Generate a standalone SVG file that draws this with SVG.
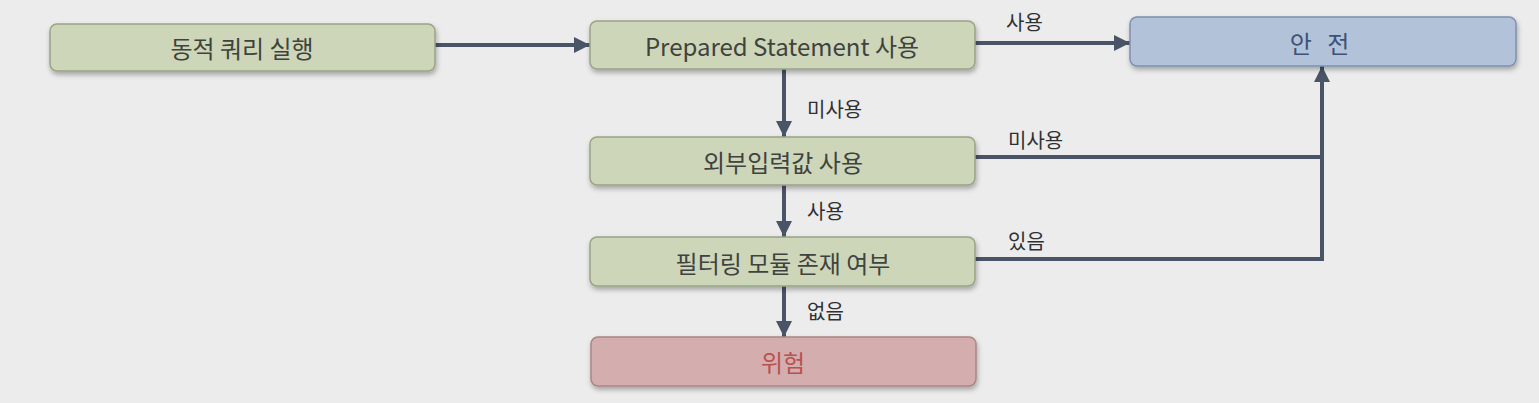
<svg xmlns="http://www.w3.org/2000/svg" width="1539" height="403" viewBox="0 0 1539 403">
<defs>
<style>
.box{stroke-width:1.5;filter:url(#sh)}
.g{fill:#cdd6b8;stroke:#98a486}
.b{fill:#b2c2d8;stroke:#7c90b0}
.r{fill:#d4aeae;stroke:#a98585}
.t{font-family:"Noto Sans CJK KR","Noto Sans",sans-serif;font-size:24px;text-anchor:middle;dominant-baseline:central;fill:#3f4340}
.lbl{font-family:"Noto Sans CJK KR","Noto Sans",sans-serif;font-size:20px;fill:#2e3133}
.ln{fill:none;stroke:#4a5467;stroke-width:4}
</style>
<filter id="sh" x="-5%" y="-30%" width="110%" height="160%">
<feDropShadow dx="1" dy="3" stdDeviation="2.5" flood-color="#000" flood-opacity="0.3"/>
</filter>
<marker id="ah" viewBox="0 0 10 10" refX="10" refY="5" markerWidth="4" markerHeight="4" markerUnits="strokeWidth" orient="auto">
<path d="M0,0 L10,5 L0,10 Z" fill="#4a5467"/>
</marker>
</defs>
<rect width="1539" height="403" fill="#ececec"/>
<g id="connectors">
<line class="ln" x1="435" y1="45" x2="590" y2="45" marker-end="url(#ah)"/>
<line class="ln" x1="975" y1="43" x2="1130" y2="43" marker-end="url(#ah)"/>
<line class="ln" x1="784" y1="69" x2="784" y2="137" marker-end="url(#ah)"/>
<line class="ln" x1="784" y1="185" x2="784" y2="237" marker-end="url(#ah)"/>
<line class="ln" x1="784" y1="286" x2="784" y2="337" marker-end="url(#ah)"/>
<polyline class="ln" points="975,157 1322,157"/>
<polyline class="ln" points="975,259 1322,259 1322,66" marker-end="url(#ah)"/>
<text class="lbl" x="1006" y="30">사용</text>
<text class="lbl" x="807" y="117">미사용</text>
<text class="lbl" x="1008" y="148">미사용</text>
<text class="lbl" x="807" y="219">사용</text>
<text class="lbl" x="1008" y="249">있음</text>
<text class="lbl" x="807" y="319">없음</text>
</g>
<g id="n1"><rect class="box g" x="50" y="24" width="385" height="47" rx="7"/><text class="t" x="242" y="47">동적 쿼리 실행</text></g>
<g id="n2"><rect class="box g" x="590" y="21" width="385" height="48" rx="7"/><text class="t" x="782" y="45">Prepared Statement 사용</text></g>
<g id="safe"><rect class="box b" x="1130" y="17" width="386" height="49" rx="7"/><text class="t" x="1322" y="42" style="fill:#3e5277;letter-spacing:5px">안 전</text></g>
<g id="n3"><rect class="box g" x="590" y="137" width="385" height="48" rx="7"/><text class="t" x="783" y="161">외부입력값 사용</text></g>
<g id="n4"><rect class="box g" x="590" y="237" width="385" height="49" rx="7"/><text class="t" x="783" y="262">필터링 모듈 존재 여부</text></g>
<g id="danger"><rect class="box r" x="591" y="337" width="385" height="49" rx="7"/><text class="t" x="783" y="361" style="fill:#b9514f">위험</text></g>
</svg>
